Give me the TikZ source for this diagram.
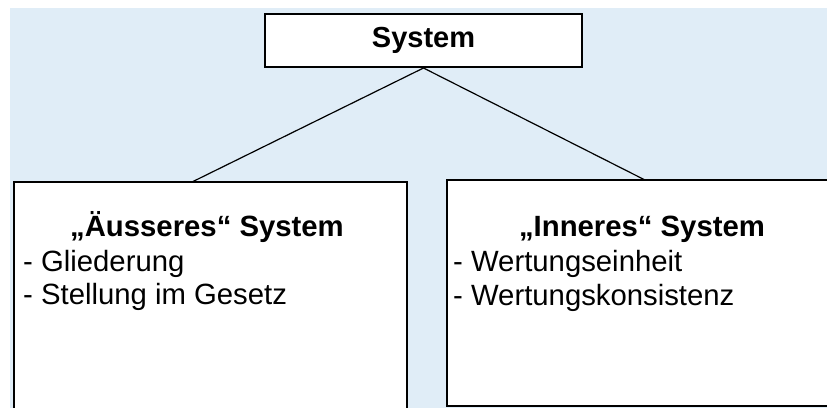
\documentclass[tikz,border=0pt]{standalone}
\usepackage{fontspec}
\setmainfont{Liberation Sans}
\definecolor{panelblue}{RGB}{224,237,247}
\begin{document}
\begin{tikzpicture}[x=1pt,y=-1pt,
  every node/.style={font=\fontsize{29.3pt}{34pt}\selectfont},
  frame/.style={draw=black,line width=2pt,fill=white,inner sep=0pt},
  panel/.style={fill=white,inner sep=0pt},
  edge/.style={draw=black,line width=2pt,line join=miter},
  heading/.style={font=\fontsize{29.3pt}{34pt}\selectfont\bfseries,anchor=base,inner sep=0pt},
  item/.style={anchor=base west,inner sep=0pt},
  link/.style={draw=black,line width=1.2pt}]
\useasboundingbox (0,0) rectangle (827,407);
\clip (0,0) rectangle (827,407);
% light blue panel behind the chart
\fill[panelblue] (10,8) rectangle (830,410);

% root box
\node[frame,minimum width=317pt,minimum height=53pt,
      font=\fontsize{29pt}{34pt}\selectfont\bfseries] (sys) at (423.5,40.5) {System};

% the two branch boxes, running off the bottom / right edge
\node[panel,anchor=north west,minimum width=393pt,minimum height=260pt] (outer) at (14,182) {};
\node[panel,anchor=north west,minimum width=440pt,minimum height=226pt] (inner) at (447,180) {};
\draw[edge] (outer.south west) -- (outer.north west) -- (outer.north east) -- (outer.south east);
\draw[edge] (inner.north east) -- (inner.north west) -- (inner.south west) -- (inner.south east);

% connectors
\draw[link] (sys.south) -- ([xshift=178pt]outer.north west);
\draw[link] (sys.south) -- ([xshift=198pt]inner.north west);

% outer system
\node[heading] (outerT) at (207,236) {„Äusseres“ System};
\node[item] (outerA) at (23,271) {- Gliederung};
\node[item] (outerB) at (23,304) {- Stellung im Gesetz};

% inner system
\node[heading] (innerT) at (642,236) {„Inneres“ System};
\node[item] (innerA) at (453,271) {- Wertungseinheit};
\node[item] (innerB) at (453,305) {- Wertungskonsistenz};
\end{tikzpicture}
\end{document}
